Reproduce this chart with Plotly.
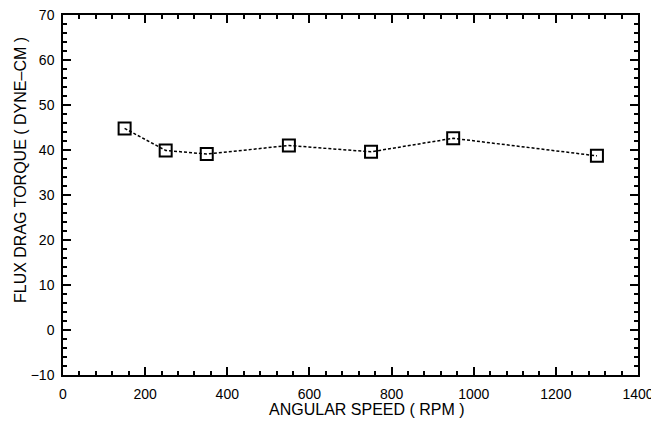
import plotly.graph_objects as go

# Angular speed (rpm) and flux drag torque (dyne-cm)
SPEED = [150, 250, 350, 550, 750, 950, 1300]
TORQUE = [44.8, 39.9, 39.1, 41.0, 39.6, 42.6, 38.7]

X_TICKS = [0, 200, 400, 600, 800, 1000, 1200, 1400]
Y_TICKS = [-10, 0, 10, 20, 30, 40, 50, 60, 70]

TICK_FONT = dict(family="Liberation Sans, Arial, sans-serif", size=14, color="black")
TITLE_FONT = dict(family="Liberation Sans, Arial, sans-serif", size=16, color="black")

fig = go.Figure()
fig.add_trace(go.Scatter(
    x=SPEED, y=TORQUE,
    mode="lines+markers",
    line=dict(color="black", width=1.5, dash="3px,2px"),
    marker=dict(symbol="square-open", size=12, color="black",
                line=dict(width=2, color="black")),
    showlegend=False,
))

axis_common = dict(
    showgrid=False, zeroline=False, showline=True, linecolor="black",
    linewidth=1.5, mirror="allticks", ticks="inside", ticklen=8,
    tickwidth=1.5, tickcolor="black", tickfont=TICK_FONT, automargin=False,
    ticklabeloverflow="allow",
)

fig.update_xaxes(
    range=[0, 1400], tickvals=X_TICKS, ticklabelstandoff=5,
    minor=dict(dtick=40, ticks="inside", ticklen=4, tickcolor="black"),
    **axis_common,
)
fig.update_yaxes(
    range=[-10, 70], tickvals=Y_TICKS, ticklabelstandoff=4,
    minor=dict(dtick=2, ticks="inside", ticklen=4, tickcolor="black"),
    **axis_common,
)

# axis titles as annotations (placed off-centre like the original)
fig.add_annotation(text="ANGULAR SPEED ( RPM )", xref="paper", yref="paper",
                   x=0.528, y=-0.097, showarrow=False, font=TITLE_FONT,
                   xanchor="center", yanchor="middle")
fig.add_annotation(text="FLUX DRAG TORQUE ( DYNE\u2013CM )", xref="paper", yref="paper",
                   x=-0.075, y=0.569, showarrow=False, font=TITLE_FONT, textangle=-90,
                   xanchor="center", yanchor="middle")

# page body adds an 8px margin, so the figure is sized to fit inside the window
fig.update_layout(
    width=648, height=410,
    margin=dict(l=55, r=18, t=7, b=43),
    plot_bgcolor="white", paper_bgcolor="white",
    font=TICK_FONT,
)

fig.write_html("out.html")
